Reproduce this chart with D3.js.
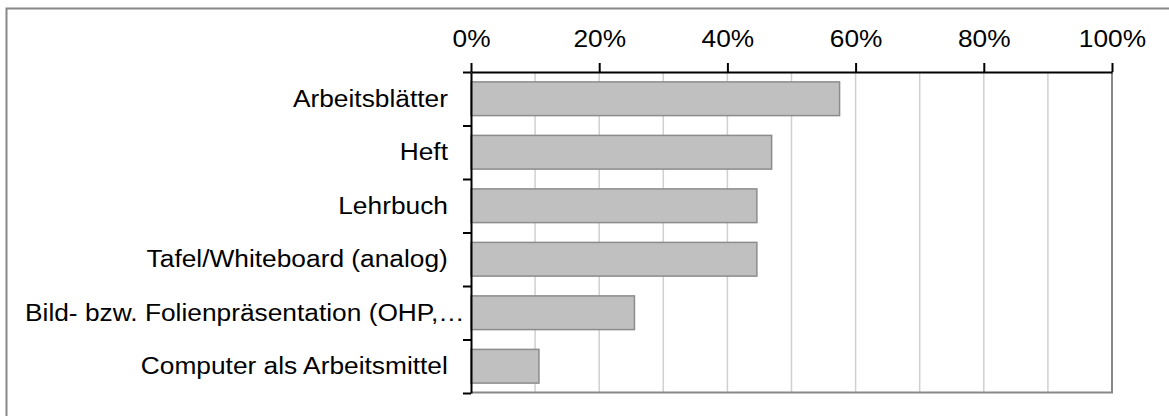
<!DOCTYPE html>
<html>
<head>
<meta charset="utf-8">
<script src="https://cdn.jsdelivr.net/npm/d3@7"></script>
<style>
  body { margin: 0; background: #fff; }
  text { font-family: "Liberation Sans", Arial, sans-serif; fill: #000; }
</style>
</head>
<body>
<div class="container"></div>
<script>
// values (share of answers, 0..1)
let categories = ['Arbeitsblätter', 'Heft', 'Lehrbuch', 'Tafel/Whiteboard (analog)',
                  'Bild- bzw. Folienpräsentation (OHP,…', 'Computer als Arbeitsmittel'];
let shares = [0.575, 0.469, 0.446, 0.446, 0.255, 0.106];
let majorTicks = [0, 0.2, 0.4, 0.6, 0.8, 1.0];
let gridTicks = [0.1, 0.2, 0.3, 0.4, 0.5, 0.6, 0.7, 0.8, 0.9];

let width = 1169,
    height = 416,
    plot = { left: 471, right: 1112, top: 72, bottom: 393 },
    stretch = 1.12,   // text in the source is a bit wider than it is tall
    fontSize = 23.5;

let svg = d3.select('.container')
            .append('svg')
            .attr('width', width)
            .attr('height', height);

// outer frame (only top and left edges are inside the crop)
svg.append('path')
   .attr('d', `M6.5,${height} V8.5 H${width}`)
   .attr('fill', 'none')
   .attr('stroke', '#888')
   .attr('stroke-width', 2);

let xScale = d3.scaleLinear()
               .domain([0, 1])
               .range([plot.left, plot.right]);

let yScale = d3.scaleBand()
               .domain(categories)
               .range([plot.top, plot.bottom])
               .paddingInner(0.37)
               .paddingOuter(0.185);

// category boundaries for the left axis ticks
let yEdges = d3.scaleLinear()
               .domain([0, categories.length])
               .range([plot.top, plot.bottom]);

// grid
svg.append('g')
   .selectAll('line')
   .data(gridTicks)
   .enter()
   .append('line')
   .attr('x1', d => xScale(d))
   .attr('x2', d => xScale(d))
   .attr('y1', plot.top)
   .attr('y2', plot.bottom)
   .attr('stroke', '#d0d0d0')
   .attr('stroke-width', 1.5);

// plot frame right + bottom
svg.append('path')
   .attr('d', `M${plot.left},${plot.bottom - 0.5} H${plot.right} V${plot.top}`)
   .attr('fill', 'none')
   .attr('stroke', '#888')
   .attr('stroke-width', 2);

// bars
svg.append('g')
   .selectAll('rect')
   .data(categories)
   .enter()
   .append('rect')
   .attr('x', xScale(0))
   .attr('y', d => yScale(d))
   .attr('width', (d, i) => xScale(shares[i]) - xScale(0))
   .attr('height', yScale.bandwidth())
   .attr('fill', '#c0c0c0')
   .attr('stroke', '#8c8c8c')
   .attr('stroke-width', 1.5);

// top axis
let xAxis = d3.axisTop(xScale)
              .tickValues(majorTicks)
              .tickFormat(d3.format('.0%'))
              .tickSize(9)
              .tickSizeOuter(0)
              .tickPadding(16);

let gx = svg.append('g')
            .attr('transform', `translate(0, ${plot.top})`)
            .call(xAxis);
gx.select('.domain').attr('stroke', '#000').attr('stroke-width', 2);
gx.selectAll('.tick line').attr('stroke', '#000').attr('stroke-width', 2);
gx.selectAll('.tick text')
  .style('font-size', fontSize + 'px')
  .attr('fill', '#000')
  .attr('transform', `scale(${stretch},1)`);

// left axis (ticks between categories)
let yAxis = d3.axisLeft(yEdges)
              .tickValues(d3.range(categories.length + 1))
              .tickFormat('')
              .tickSize(8)
              .tickSizeOuter(0);

let gy = svg.append('g')
            .attr('transform', `translate(${plot.left}, 0)`)
            .call(yAxis);
gy.select('.domain').attr('stroke', '#000').attr('stroke-width', 2);
gy.selectAll('.tick line').attr('stroke', '#000').attr('stroke-width', 2);

// category labels, right aligned; long ones start at the left margin
let labelRight = 448, labelLeftLimit = 25;
svg.append('g')
   .selectAll('text')
   .data(categories)
   .enter()
   .append('text')
   .style('font-size', fontSize + 'px')
   .attr('dy', '0.33em')
   .text(d => d)
   .each(function(d) {
     let w = this.getComputedTextLength() * stretch;
     let x0 = Math.max(labelRight - w, labelLeftLimit);
     let yc = yScale(d) + yScale.bandwidth() / 2;
     d3.select(this).attr('transform', `translate(${x0}, ${yc}) scale(${stretch},1)`);
   });
</script>
</body>
</html>
